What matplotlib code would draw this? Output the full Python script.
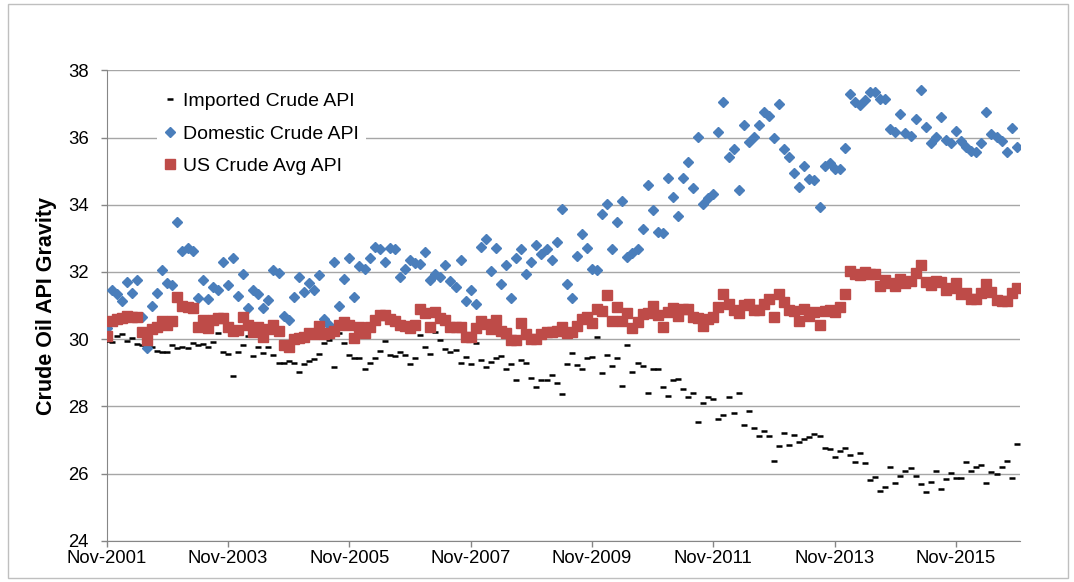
import numpy as np
import matplotlib
matplotlib.use("Agg")
import matplotlib.pyplot as plt
from matplotlib.patches import Rectangle

plt.rcParams['font.family'] = ['Liberation Sans', 'DejaVu Sans']

# monthly values, Nov-2001 onwards
imported = [
    29.95, 29.92, 30.08, 30.14, 29.95, 30.03, 29.87, 29.83, 29.90, 29.78,
    29.66, 29.63, 29.63, 29.83, 29.73, 29.77, 29.75, 29.88, 29.83, 29.85,
    29.78, 29.91, 30.17, 29.63, 29.56, 28.89, 29.63, 29.82, 30.08, 29.50,
    29.77, 29.59, 29.77, 29.54, 29.30, 29.30, 29.34, 29.30, 29.02, 29.27,
    29.36, 29.40, 29.56, 29.88, 29.98, 29.18, 30.17, 29.88, 29.53, 29.44,
    29.44, 29.12, 29.30, 29.44, 29.66, 29.95, 29.53, 29.50, 29.63, 29.53,
    29.25, 29.44, 30.13, 29.78, 29.56, 30.20, 29.97, 29.72, 29.63, 29.68,
    29.30, 29.47, 29.27, 29.88, 29.37, 29.18, 29.33, 29.44, 29.50, 29.12,
    29.25, 28.79, 29.37, 29.30, 28.85, 28.57, 28.77, 28.77, 28.93, 28.70,
    28.37, 29.25, 29.60, 29.22, 29.10, 29.43, 29.47, 30.07, 28.99, 29.53,
    29.20, 29.43, 28.60, 29.82, 29.02, 29.30, 29.20, 28.41, 29.10, 29.10,
    28.57, 28.32, 28.77, 28.82, 28.53, 28.28, 28.40, 27.53, 28.10, 28.27,
    28.23, 27.62, 27.75, 28.27, 27.81, 28.39, 27.43, 27.85, 27.36, 27.11,
    27.27, 27.11, 26.37, 26.81, 27.21, 26.86, 27.15, 26.93, 27.03, 27.10,
    27.18, 27.11, 26.76, 26.73, 26.50, 26.68, 26.76, 26.56, 26.35, 26.61,
    26.31, 25.81, 25.89, 25.48, 25.61, 26.18, 25.73, 25.93, 26.08, 26.16,
    25.93, 25.68, 25.46, 25.75, 26.06, 25.53, 25.83, 26.01, 25.86, 25.86,
    26.33, 26.06, 26.18, 26.25, 25.71, 26.03, 25.98, 26.18, 26.38, 25.88,
    26.88,
]

domestic = [
    30.32, 31.47, 31.33, 31.13, 31.70, 31.37, 31.77, 30.65, 29.75, 30.99,
    31.38, 32.05, 31.67, 31.62, 33.49, 32.63, 32.71, 32.62, 31.22, 31.77,
    31.19, 31.55, 31.45, 32.30, 31.62, 32.43, 31.30, 31.95, 30.93, 31.47,
    31.33, 30.93, 31.18, 32.05, 31.97, 30.70, 30.57, 31.25, 31.85, 31.40,
    31.67, 31.45, 31.90, 30.60, 30.43, 32.30, 30.99, 31.79, 32.42, 31.25,
    32.17, 32.10, 32.42, 32.75, 32.67, 32.30, 32.70, 32.68, 31.85, 32.10,
    32.35, 32.27, 32.23, 32.59, 31.75, 31.93, 31.85, 32.20, 31.72, 31.55,
    32.37, 31.15, 31.45, 31.05, 32.75, 32.97, 32.02, 32.70, 31.63, 32.20,
    31.23, 32.42, 32.68, 31.95, 32.30, 32.79, 32.53, 32.68, 32.35, 32.88,
    33.87, 31.65, 31.22, 32.47, 33.13, 32.72, 32.08, 32.05, 33.72, 34.03,
    32.68, 33.50, 34.10, 32.45, 32.57, 32.69, 33.29, 34.58, 33.84, 33.20,
    33.17, 34.79, 34.22, 33.68, 34.79, 35.27, 34.50, 36.03, 34.03, 34.21,
    34.31, 36.16, 37.06, 35.43, 35.65, 34.43, 36.38, 35.88, 36.03, 36.38,
    36.76, 36.65, 36.00, 37.00, 35.65, 35.43, 34.96, 34.53, 35.15, 34.78,
    34.75, 33.95, 35.16, 35.25, 35.08, 35.08, 35.68, 37.30, 37.05, 36.96,
    37.11, 37.35, 37.35, 37.15, 37.15, 36.25, 36.18, 36.70, 36.13, 36.05,
    36.56, 37.41, 36.31, 35.83, 36.03, 36.61, 35.93, 35.83, 36.21, 35.90,
    35.71, 35.61, 35.58, 35.83, 36.76, 36.11, 36.03, 35.90, 35.58, 36.28,
    35.71,
]

us_avg = [
    30.10, 30.55, 30.60, 30.62, 30.70, 30.65, 30.67, 30.20, 29.97, 30.30,
    30.37, 30.55, 30.43, 30.55, 31.25, 31.00, 30.97, 30.93, 30.37, 30.57,
    30.33, 30.56, 30.63, 30.62, 30.37, 30.23, 30.28, 30.65, 30.43, 30.20,
    30.35, 30.07, 30.30, 30.43, 30.23, 29.83, 29.78, 30.00, 30.03, 30.05,
    30.17, 30.15, 30.38, 30.15, 30.17, 30.25, 30.43, 30.50, 30.42, 30.03,
    30.35, 30.17, 30.35, 30.57, 30.72, 30.73, 30.60, 30.55, 30.43, 30.40,
    30.33, 30.43, 30.90, 30.77, 30.35, 30.80, 30.63, 30.56, 30.35, 30.35,
    30.35, 30.07, 30.05, 30.33, 30.53, 30.45, 30.30, 30.57, 30.25, 30.17,
    29.97, 29.97, 30.47, 30.15, 30.00, 30.00, 30.15, 30.20, 30.20, 30.25,
    30.37, 30.17, 30.20, 30.40, 30.60, 30.67, 30.48, 30.90, 30.85, 31.32,
    30.55, 30.97, 30.55, 30.77, 30.32, 30.50, 30.75, 30.77, 31.00, 30.73,
    30.35, 30.80, 30.92, 30.68, 30.90, 30.90, 30.65, 30.63, 30.40, 30.61,
    30.65, 30.96, 31.33, 31.05, 30.88, 30.78, 31.01, 31.05, 30.88, 30.86,
    31.06, 31.21, 30.67, 31.33, 31.10, 30.88, 30.85, 30.55, 30.91, 30.68,
    30.81, 30.41, 30.85, 30.88, 30.81, 30.95, 31.33, 32.03, 31.93, 31.90,
    32.00, 31.93, 31.95, 31.58, 31.75, 31.68, 31.58, 31.78, 31.68, 31.73,
    31.98, 32.20, 31.71, 31.61, 31.73, 31.71, 31.45, 31.53, 31.68, 31.35,
    31.36, 31.21, 31.20, 31.36, 31.63, 31.40, 31.18, 31.13, 31.15, 31.36,
    31.53,
]

tick_labels = ["Nov-2001", "Nov-2003", "Nov-2005", "Nov-2007",
               "Nov-2009", "Nov-2011", "Nov-2013", "Nov-2015"]

months = np.arange(len(imported))

fig = plt.figure(figsize=(10.74, 5.82), dpi=100)
ax = fig.add_axes([0.0993, 0.071, 0.8502, 0.8079])

# outer chart border
fig.patches.append(Rectangle((8 / 1074, 4 / 582), 1060 / 1074, 574 / 582,
                             transform=fig.transFigure, fill=False,
                             edgecolor="#BFBFBF", linewidth=1))

ax.plot(months, imported, linestyle="none", marker="_", markersize=5,
        markeredgewidth=1.8, color="black", label="Imported Crude API", zorder=3)
ax.plot(months, domestic, linestyle="none", marker="D", markersize=5,
        color="#4A7EBB", markeredgecolor="#4A7EBB", label="Domestic Crude API", zorder=3)
ax.plot(months, us_avg, linestyle="none", marker="s", markersize=6.6,
        color="#BE4B48", markeredgecolor="#BE4B48", label="US Crude Avg API", zorder=3)

ax.set_xlim(0, 180.6)
ax.set_ylim(24, 38)
ax.set_yticks(np.arange(24, 39, 2))
ax.set_xticks(np.arange(0, 24 * len(tick_labels), 24))
ax.set_xticklabels(tick_labels)

ax.grid(axis="y", color="#A6A6A6", linewidth=1)
ax.set_axisbelow(True)
for s in ["top", "right"]:
    ax.spines[s].set_visible(False)
for s in ["left", "bottom"]:
    ax.spines[s].set_color("#868686")
ax.tick_params(axis="both", colors="#868686", labelcolor="black", labelsize=13.3,
               length=4, width=1)
ax.tick_params(axis="y", pad=9)
ax.tick_params(axis="x", pad=3)

ax.set_ylabel("Crude Oil API Gravity", fontsize=15.5, fontweight="bold", labelpad=8)

leg = ax.legend(loc="upper left", bbox_to_anchor=(0.044, 0.99), fontsize=14,
                frameon=True, fancybox=False, edgecolor="none", facecolor="white",
                framealpha=1, handlelength=0.6, handletextpad=0.35,
                labelspacing=0.76, borderpad=0.4, markerscale=1.0)

fig.savefig("out.png", dpi=100)
